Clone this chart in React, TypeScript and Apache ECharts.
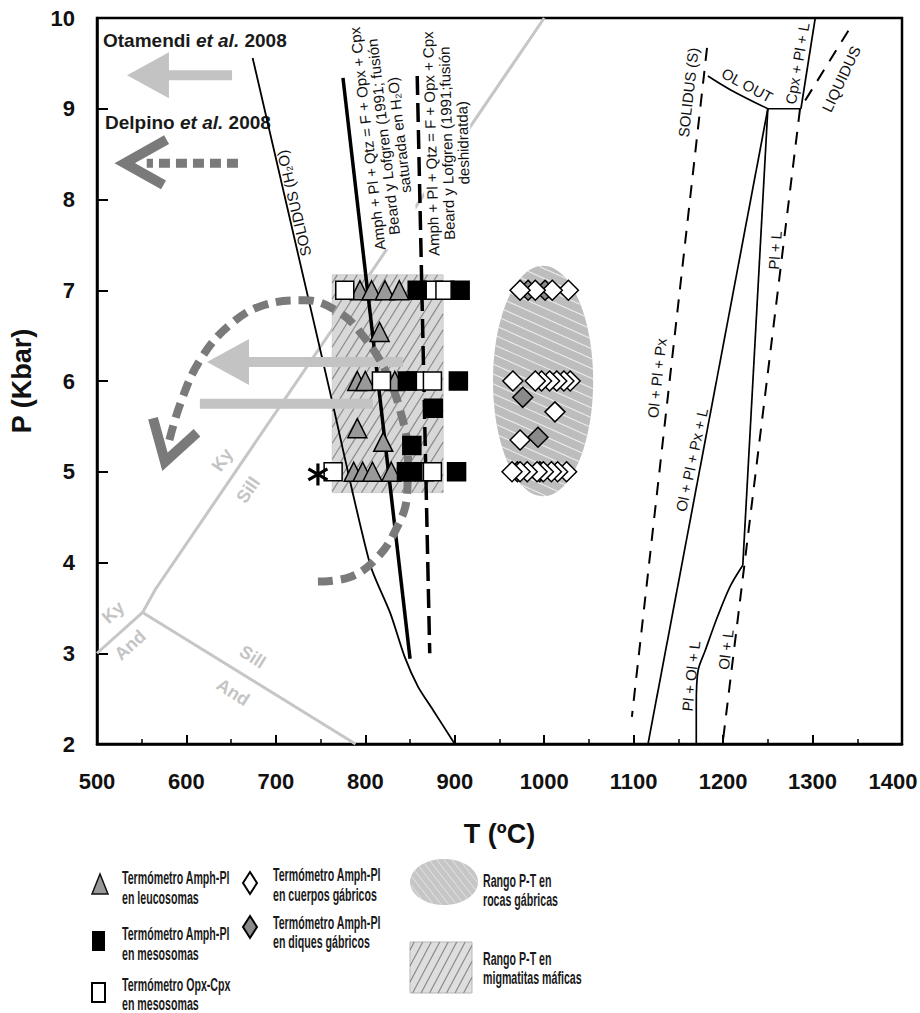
import React, { useEffect, useRef } from 'react';
import * as echarts from 'echarts';

const FONT = "'Liberation Sans', Arial, Helvetica, sans-serif";

// ---------- axes ----------
const tMin = 500;
const tMax = 1400;
const tStep = 100;
const pMin = 2;
const pMax = 10;
const pStep = 1;

// ---------- phase boundaries [T ºC, P kbar] ----------
const kyAnd = [[500, 3.0], [551, 3.45]];
const sillAnd = [[551, 3.45], [789, 2.0]];
const kySill = [[551, 3.45], [565, 3.7], [1000, 10]];
const solidusH2O = [[674, 9.56], [760, 5.9], [805, 3.99], [828, 3.44], [844, 2.96], [859, 2.63], [876, 2.37], [900, 2.0]];
const beardSaturated = [[775, 9.34], [850, 2.94]];
const beardDehydrated = [[858, 9.36], [872, 3.0]];
const solidusS = [[1182, 9.67], [1098, 2.3]];
const olOut = [[1183, 9.36], [1208, 9.21], [1250, 9.0]];
const olOutFlat = [[1250, 9.0], [1287, 9.0]];
const cpxPlL = [[1287, 9.0], [1303, 10]];
const olPlPxL = [[1250, 9.0], [1116, 2.0]];
const plL = [[1250, 9.0], [1222, 3.97]];
const plOlL = [[1222, 3.97], [1208, 3.74], [1194, 3.41], [1180, 3.03], [1172, 2.81], [1170, 2.44], [1170, 2.0]];
const liquidus = [[1340, 9.86], [1286, 9.0], [1199, 1.97]];

// ---------- P-T paths (arrows) ----------
const otamendiArrows = [[651, 9.37, 533.5, 9.37], [842, 6.21, 623, 6.21]]; // tail T, tail P, tip T, tip P
const otamendiBar = [[808.6, 5.75], [615, 5.75]];
const delpinoShaft = [[657.6, 8.4], [555.6, 8.4]];
const delpinoHead = [[577.8, 8.66], [531, 8.4], [574.4, 8.16]];
const delpinoPath = [
  [747, 3.79], [783, 3.84], [811, 4.03], [833, 4.34], [846.6, 4.74], [847.7, 5.18], [838.8, 5.68],
  [822, 6.12], [799.6, 6.47], [771.7, 6.75], [732.6, 6.89], [687.8, 6.84], [648.7, 6.62],
  [615.2, 6.23], [592.8, 5.74], [579.4, 5.29]
];
const delpinoPathHead = [[562.6, 5.59], [576, 5.11], [611.8, 5.43]];

// ---------- P-T ranges ----------
const migmatiteRange = [[763, 4.77, 887, 7.17]]; // T1, P1, T2, P2
const gabbroRange = [[998.7, 6.0, 56, 1.27]]; // centre T, centre P, half-width T, half-height P

// ---------- thermometry ----------
const leucosomaAmphPl = [
  [794, 7], [807, 7], [822, 7], [838, 7], [816, 6.54],
  [791, 6], [800, 6], [833, 6], [791, 5.48], [820, 5.33],
  [787, 5], [797, 5], [808, 5], [829, 5]
];
const mesosomaOpxCpx = [[777, 7], [876, 7], [889, 7], [818, 6], [856, 6], [875, 6], [764, 5], [866, 5], [875, 5]];
const mesosomaAmphPl = [[858, 7], [906, 7], [847, 6], [904, 6], [876, 5.7], [852, 5.29], [846, 5], [853, 5], [902, 5]];
const gabbroDykes = [[1001, 7], [982, 7], [976, 5.82], [993, 5.38], [995, 5], [970, 5]];
const gabbroBodies = [
  [1027, 7], [1009, 7], [990, 7], [973, 7],
  [1029, 6], [1022, 6], [1014, 6], [1006, 6], [997, 6], [990, 6], [965, 6],
  [1012, 5.66], [973, 5.35],
  [1025, 5], [1015, 5], [1008, 5], [999, 5], [992, 5], [981, 5], [973, 5], [964, 5]
];
const asteriskPoint = [[747, 4.97]];

// ---------- texts ----------
const diagramLabels = [
  { text: 'SOLIDUS (H₂O)', at: [720, 7.96], rot: 1.8 },
  { text: 'Amph + Pl + Qtz = F + Opx + Cpx\nBeard y Lofgren (1991; fusión\nsaturada en H₂O)', at: [820, 8.69], rot: 1.686, bg: true },
  { text: 'Amph + Pl + Qtz = F + Opx + Cpx\nBeard y Lofgren (1991;fusión\ndeshidratda)', at: [891, 8.62], rot: 1.6, bg: true },
  { text: 'SOLIDUS (S)', at: [1161, 9.18], rot: 1.459 },
  { text: 'OL OUT', at: [1227, 9.26], rot: -0.495 },
  { text: 'Cpx + Pl + L', at: [1283, 9.5], rot: 1.4 },
  { text: 'LIQUIDUS', at: [1332, 9.33], rot: 1.131 },
  { text: 'Pl + L', at: [1258, 7.44], rot: 1.5 },
  { text: 'Ol + Pl + Px', at: [1126, 6.03], rot: 1.463 },
  { text: 'Ol + Pl + Px + L', at: [1165, 5.13], rot: 1.358 },
  { text: 'Pl + Ol + L', at: [1164, 2.75], rot: 1.46 },
  { text: 'Ol + L', at: [1203, 3.04], rot: 1.45 },
];
const mineralLabels = [
  { text: 'Ky', at: [640, 5.13], rot: 0.974 },
  { text: 'Sill', at: [669, 4.8], rot: 0.974 },
  { text: 'Ky', at: [518, 3.45], rot: 0.74 },
  { text: 'And', at: [537, 3.09], rot: 0.74 },
  { text: 'Sill', at: [674, 2.96], rot: -0.564 },
  { text: 'And', at: [652, 2.57], rot: -0.564 },
];
const referenceLabels = [
  { name: 'Otamendi', year: '2008', at: [506.7, 9.75] },
  { name: 'Delpino', year: '2008', at: [509, 8.85] },
];
const legendTexts = [
  ['Termómetro Amph-Pl', 'en leucosomas'],
  ['Termómetro Amph-Pl', 'en mesosomas'],
  ['Termómetro Opx-Cpx', 'en mesosomas'],
  ['Termómetro Amph-Pl', 'en cuerpos gábricos'],
  ['Termómetro Amph-Pl', 'en diques gábricos'],
  ['Rango P-T en', 'rocas gábricas'],
  ['Rango P-T en', 'migmatitas máficas'],
];

// ---------- helpers ----------
type Clip = (px: number, py: number, dx: number, dy: number) => [number, number] | null;

function hatch(x0: number, y0: number, x1: number, y1: number, clip: Clip, angleDeg: number, spacing: number) {
  const a = (angleDeg * Math.PI) / 180;
  const dx = Math.cos(a), dy = -Math.sin(a);
  const nx = -dy, ny = dx;
  const cs = [[x0, y0], [x1, y0], [x0, y1], [x1, y1]].map(([x, y]) => x * nx + y * ny);
  const cmin = Math.min(...cs), cmax = Math.max(...cs);
  const segs: number[][] = [];
  for (let c = cmin + spacing / 2; c < cmax; c += spacing) {
    const px = c * nx, py = c * ny;
    const r = clip(px, py, dx, dy);
    if (r && r[1] > r[0]) segs.push([px + r[0] * dx, py + r[0] * dy, px + r[1] * dx, py + r[1] * dy]);
  }
  return segs;
}
const rectClip = (x0: number, y0: number, x1: number, y1: number): Clip => (px, py, dx, dy) => {
  let tmin = -Infinity, tmax = Infinity;
  const dims: number[][] = [[px, dx, x0, x1], [py, dy, y0, y1]];
  for (const [p, d, lo, hi] of dims) {
    if (Math.abs(d) < 1e-9) {
      if (p < lo || p > hi) return null;
    } else {
      let t1 = (lo - p) / d, t2 = (hi - p) / d;
      if (t1 > t2) [t1, t2] = [t2, t1];
      tmin = Math.max(tmin, t1);
      tmax = Math.min(tmax, t2);
    }
  }
  return [tmin, tmax];
};
const ellipseClip = (cx: number, cy: number, rx: number, ry: number): Clip => (px, py, dx, dy) => {
  const a1 = (px - cx) / rx, b1 = dx / rx, a2 = (py - cy) / ry, b2 = dy / ry;
  const A = b1 * b1 + b2 * b2, B = 2 * (a1 * b1 + a2 * b2), C = a1 * a1 + a2 * a2 - 1;
  const D = B * B - 4 * A * C;
  if (D <= 0) return null;
  const s = Math.sqrt(D);
  return [(-B - s) / (2 * A), (-B + s) / (2 * A)];
};
const segLines = (segs: number[][], stroke: string, lineWidth: number) =>
  segs.map((s) => ({ type: 'line', shape: { x1: s[0], y1: s[1], x2: s[2], y2: s[3] }, style: { stroke, lineWidth } }));

function rectHatch(x0: number, y0: number, x1: number, y1: number, angle: number, spacing: number) {
  return hatch(x0, y0, x1, y1, rectClip(x0, y0, x1, y1), angle, spacing);
}
function ellipseHatch(cx: number, cy: number, rx: number, ry: number, angle: number, spacing: number) {
  return hatch(cx - rx, cy - ry, cx + rx, cy + ry, ellipseClip(cx, cy, rx, ry), angle, spacing);
}

const lineSeries = (data: number[][], color: string, width: number, type: any, z: number, smooth: any = false) => ({
  type: 'line', data, symbol: 'none', showSymbol: false, smooth, silent: true, z,
  lineStyle: { color, width, type, cap: 'butt', join: 'miter' },
});

const scatterSeries = (data: number[][], symbol: string, size: number, fill: string, z: number) => ({
  type: 'scatter', data, symbol, symbolSize: size, silent: true, z,
  itemStyle: { color: fill, borderColor: '#000', borderWidth: 1.5, opacity: 1 },
});

function buildLegend() {
  const els: any[] = [];
  const txtStyle = (text: string) => ({
    text, fontSize: 19, fontWeight: 'bold', fontFamily: FONT, fill: '#1a1a1a', align: 'left', verticalAlign: 'middle',
  });
  const pos = [
    [122, 877, 897], [122, 933, 953], [122, 984, 1003],
    [273, 874, 894], [273, 922, 941],
    [483, 880, 899], [483, 958, 977],
  ];
  legendTexts.forEach((lines, i) => {
    els.push({ type: 'text', x: pos[i][0], y: pos[i][1], scaleX: 0.56, style: txtStyle(lines[0]), z: 100 });
    els.push({ type: 'text', x: pos[i][0], y: pos[i][2], scaleX: 0.56, style: txtStyle(lines[1]), z: 100 });
  });
  els.push({ type: 'polygon', shape: { points: [[92, 894], [100, 874], [108, 894]] }, style: { fill: '#999', stroke: '#111', lineWidth: 1.5 }, z: 100 });
  els.push({ type: 'rect', shape: { x: 92, y: 931, width: 13, height: 20 }, style: { fill: '#000' }, z: 100 });
  els.push({ type: 'rect', shape: { x: 92, y: 983, width: 13, height: 19 }, style: { fill: '#fff', stroke: '#000', lineWidth: 2 }, z: 100 });
  els.push({ type: 'polygon', shape: { points: [[250, 872], [257, 883], [250, 894], [243, 883]] }, style: { fill: '#fff', stroke: '#000', lineWidth: 2 }, z: 100 });
  els.push({ type: 'polygon', shape: { points: [[250, 916], [257, 927], [250, 938], [243, 927]] }, style: { fill: '#8a8a8a', stroke: '#000', lineWidth: 2 }, z: 100 });
  els.push({ type: 'ellipse', shape: { cx: 444, cy: 882, rx: 34, ry: 23 }, style: { fill: '#c6c6c6' }, z: 100 });
  segLines(ellipseHatch(444, 882, 34, 23, -52, 6), '#e4e4e4', 1).forEach((l) => els.push({ ...l, z: 101 }));
  els.push({ type: 'rect', shape: { x: 410, y: 942, width: 62, height: 51 }, style: { fill: '#dedede', stroke: '#b8b8b8', lineWidth: 1 }, z: 100 });
  segLines(rectHatch(410, 942, 472, 993, 62, 7.5), '#8a8a8a', 1.2).forEach((l) => els.push({ ...l, z: 101 }));
  return els;
}

function buildOption() {
  const series: any[] = [];

  // Al2SiO5 triple point lines
  series.push(lineSeries(kyAnd, '#c6c6c6', 3, 'solid', 1));
  series.push(lineSeries(sillAnd, '#c6c6c6', 3, 'solid', 1));
  series.push(lineSeries(kySill, '#c6c6c6', 3, 'solid', 1));

  // migmatite P-T range (hatched rect)
  series.push({
    type: 'custom', data: migmatiteRange, z: 2, silent: true,
    encode: { x: [0, 2], y: [1, 3] },
    renderItem: (params: any, api: any) => {
      const p1 = api.coord([api.value(0), api.value(1)]);
      const p2 = api.coord([api.value(2), api.value(3)]);
      const x0 = Math.min(p1[0], p2[0]), x1 = Math.max(p1[0], p2[0]);
      const y0 = Math.min(p1[1], p2[1]), y1 = Math.max(p1[1], p2[1]);
      return {
        type: 'group',
        children: [
          { type: 'rect', shape: { x: x0, y: y0, width: x1 - x0, height: y1 - y0 }, style: { fill: '#d8d8d8', stroke: '#cfcfcf', lineWidth: 1 } },
          ...segLines(rectHatch(x0, y0, x1, y1, 58, 8.5), '#8c8c8c', 1.2),
        ],
      };
    },
  });

  // gabbro P-T range (hatched ellipse)
  series.push({
    type: 'custom', data: gabbroRange, z: 2, silent: true,
    encode: { x: 0, y: 1 },
    renderItem: (params: any, api: any) => {
      const c = api.coord([api.value(0), api.value(1)]);
      const s = api.size([api.value(2), api.value(3)]);
      return {
        type: 'group',
        children: [
          { type: 'ellipse', shape: { cx: c[0], cy: c[1], rx: s[0], ry: s[1] }, style: { fill: '#bdbdbd' } },
          ...segLines(ellipseHatch(c[0], c[1], s[0], s[1], -24, 9), '#ececec', 1.1),
        ],
      };
    },
  });

  // text annotations
  series.push({
    type: 'custom', data: diagramLabels.map((l) => l.at), z: 3, silent: true,
    renderItem: (params: any, api: any) => {
      const l = diagramLabels[params.dataIndex];
      const c = api.coord([api.value(0), api.value(1)]);
      return {
        type: 'text', x: c[0], y: c[1], rotation: l.rot,
        style: {
          text: l.text, fontSize: 15, fontFamily: FONT, fill: '#111', align: 'center', verticalAlign: 'middle',
          lineHeight: 16, backgroundColor: l.bg ? '#fff' : undefined,
        },
      };
    },
  });
  series.push({
    type: 'custom', data: mineralLabels.map((l) => l.at), z: 3, silent: true,
    renderItem: (params: any, api: any) => {
      const l = mineralLabels[params.dataIndex];
      const c = api.coord([api.value(0), api.value(1)]);
      return {
        type: 'text', x: c[0], y: c[1], rotation: l.rot,
        style: { text: l.text, fontSize: 18, fontWeight: 'bold', fontFamily: FONT, fill: '#c4c4c4', align: 'center', verticalAlign: 'middle' },
      };
    },
  });
  series.push({
    type: 'custom', data: referenceLabels.map((l) => l.at), z: 3, silent: true,
    renderItem: (params: any, api: any) => {
      const l = referenceLabels[params.dataIndex];
      const c = api.coord([api.value(0), api.value(1)]);
      return {
        type: 'text', x: c[0], y: c[1],
        style: {
          text: `{b|${l.name} }{i|et al.}{b| ${l.year}}`, align: 'left', verticalAlign: 'middle',
          rich: {
            b: { fontSize: 19, fontWeight: 'bold', fontFamily: FONT, fill: '#1a1a1a' },
            i: { fontSize: 19, fontWeight: 'bold', fontStyle: 'italic', fontFamily: FONT, fill: '#1a1a1a' },
          },
        },
      };
    },
  });

  // black reaction lines
  series.push(lineSeries(solidusH2O, '#000', 1.8, 'solid', 4, 0.25));
  series.push(lineSeries(beardSaturated, '#000', 3.5, 'solid', 4));
  series.push(lineSeries(beardDehydrated, '#000', 3.5, [19, 8], 4));
  series.push(lineSeries(solidusS, '#000', 2, [13, 10], 4));
  series.push(lineSeries(olOut, '#000', 1.7, 'solid', 4, 0.4));
  series.push(lineSeries(olOutFlat, '#000', 1.7, 'solid', 4));
  series.push(lineSeries(cpxPlL, '#000', 1.7, 'solid', 4));
  series.push(lineSeries(olPlPxL, '#000', 1.7, 'solid', 4));
  series.push(lineSeries(plL, '#000', 1.7, 'solid', 4));
  series.push(lineSeries(plOlL, '#000', 1.7, 'solid', 4, 0.3));
  series.push(lineSeries(liquidus, '#000', 2, [13, 10], 4));

  // Otamendi et al. arrows (light grey)
  series.push({
    type: 'custom', data: otamendiArrows, z: 5, silent: true,
    renderItem: (params: any, api: any) => {
      const tail = api.coord([api.value(0), api.value(1)]);
      const tip = api.coord([api.value(2), api.value(3)]);
      const dx = tip[0] - tail[0], dy = tip[1] - tail[1];
      const len = Math.hypot(dx, dy);
      const ux = dx / len, uy = dy / len;
      const hl = 42, hw = 23;
      const bx = tip[0] - ux * hl, by = tip[1] - uy * hl;
      return {
        type: 'group',
        children: [
          { type: 'line', shape: { x1: tail[0], y1: tail[1], x2: bx + ux * 2, y2: by + uy * 2 }, style: { stroke: '#c3c3c3', lineWidth: 10 } },
          { type: 'polygon', shape: { points: [[tip[0], tip[1]], [bx - uy * hw, by + ux * hw], [bx + uy * hw, by - ux * hw]] }, style: { fill: '#c3c3c3' } },
        ],
      };
    },
  });
  series.push(lineSeries(otamendiBar, '#c3c3c3', 10, 'solid', 5));

  // Delpino et al. arrows (dark grey, dashed)
  series.push(lineSeries(delpinoShaft, '#7a7a7a', 9, [11, 6], 6));
  series.push(lineSeries(delpinoHead, '#7a7a7a', 10, 'solid', 6));
  series.push(lineSeries(delpinoPath, '#7a7a7a', 8, [15, 8], 6, 0.4));
  series.push(lineSeries(delpinoPathHead, '#7a7a7a', 10, 'solid', 6));

  // thermometry markers
  series.push(scatterSeries(leucosomaAmphPl, 'triangle', 19, '#999999', 7));
  series.push(scatterSeries(mesosomaOpxCpx, 'rect', 18, '#ffffff', 8));
  series.push(scatterSeries(mesosomaAmphPl, 'rect', 18, '#000000', 9));
  series.push(scatterSeries(gabbroDykes, 'diamond', 20, '#8a8a8a', 7));
  series.push(scatterSeries(gabbroBodies, 'diamond', 20, '#ffffff', 8));

  // asterisk
  series.push({
    type: 'custom', data: asteriskPoint, z: 10, silent: true,
    renderItem: (params: any, api: any) => {
      const c = api.coord([api.value(0), api.value(1)]);
      const r = 11;
      const children = [90, 30, 150].map((deg) => {
        const a = (deg * Math.PI) / 180;
        return {
          type: 'line',
          shape: { x1: c[0] - r * Math.cos(a), y1: c[1] + r * Math.sin(a), x2: c[0] + r * Math.cos(a), y2: c[1] - r * Math.sin(a) },
          style: { stroke: '#000', lineWidth: 3.2 },
        };
      });
      return { type: 'group', children };
    },
  });

  const tickFont = { fontSize: 22, fontWeight: 'bold', color: '#111', fontFamily: FONT };

  return {
    animation: false,
    backgroundColor: '#ffffff',
    textStyle: { fontFamily: FONT },
    grid: {
      left: 97, right: 18, top: 18, bottom: 269, containLabel: false, outerBoundsMode: 'none',
      show: true, borderColor: '#000', borderWidth: 2.5, backgroundColor: 'transparent',
    },
    xAxis: {
      type: 'value', min: tMin, max: tMax, interval: tStep,
      name: 'T (ºC)', nameLocation: 'middle', nameGap: 76, nameMoveOverlap: false,
      nameTextStyle: { fontSize: 27, fontWeight: 'bold', color: '#111', fontFamily: FONT },
      axisLine: { show: true, lineStyle: { color: '#000', width: 2.5 } },
      axisTick: { show: true, inside: true, length: 9, lineStyle: { color: '#000', width: 2 } },
      minorTick: { show: true, splitNumber: 2, length: 5, lineStyle: { color: '#000', width: 1.5 } },
      axisLabel: {
        ...tickFont, margin: 26,
        showMinLabel: true, showMaxLabel: true, hideOverlap: false,
        formatter: (v: number) => (v === tMax ? `{last|${v}}` : String(v)),
        rich: { last: { ...tickFont, padding: [0, 18, 0, 0] } },
      },
      splitLine: { show: false },
      minorSplitLine: { show: false },
    },
    yAxis: {
      type: 'value', min: pMin, max: pMax, interval: pStep,
      name: 'P (Kbar)', nameLocation: 'middle', nameGap: 62, nameMoveOverlap: false,
      nameTextStyle: { fontSize: 27, fontWeight: 'bold', color: '#111', fontFamily: FONT },
      axisLine: { show: true, lineStyle: { color: '#000', width: 2.5 } },
      axisTick: { show: true, inside: true, length: 11, lineStyle: { color: '#000', width: 2 } },
      axisLabel: {
        ...tickFont, margin: 22,
        showMinLabel: true, showMaxLabel: true, hideOverlap: false, formatter: (v: number) => String(v),
      },
      splitLine: { show: false },
    },
    graphic: { elements: buildLegend() },
    series,
  };
}

export default function App() {
  const ref = useRef<HTMLDivElement>(null);
  useEffect(() => {
    document.body.style.margin = '0';
    document.body.style.overflow = 'hidden';
    const chart = echarts.init(ref.current as HTMLDivElement, undefined, { renderer: 'svg' });
    chart.setOption(buildOption() as any);
    return () => chart.dispose();
  }, []);
  return <div ref={ref} style={{ width: 920, height: 1013 }} />;
}
